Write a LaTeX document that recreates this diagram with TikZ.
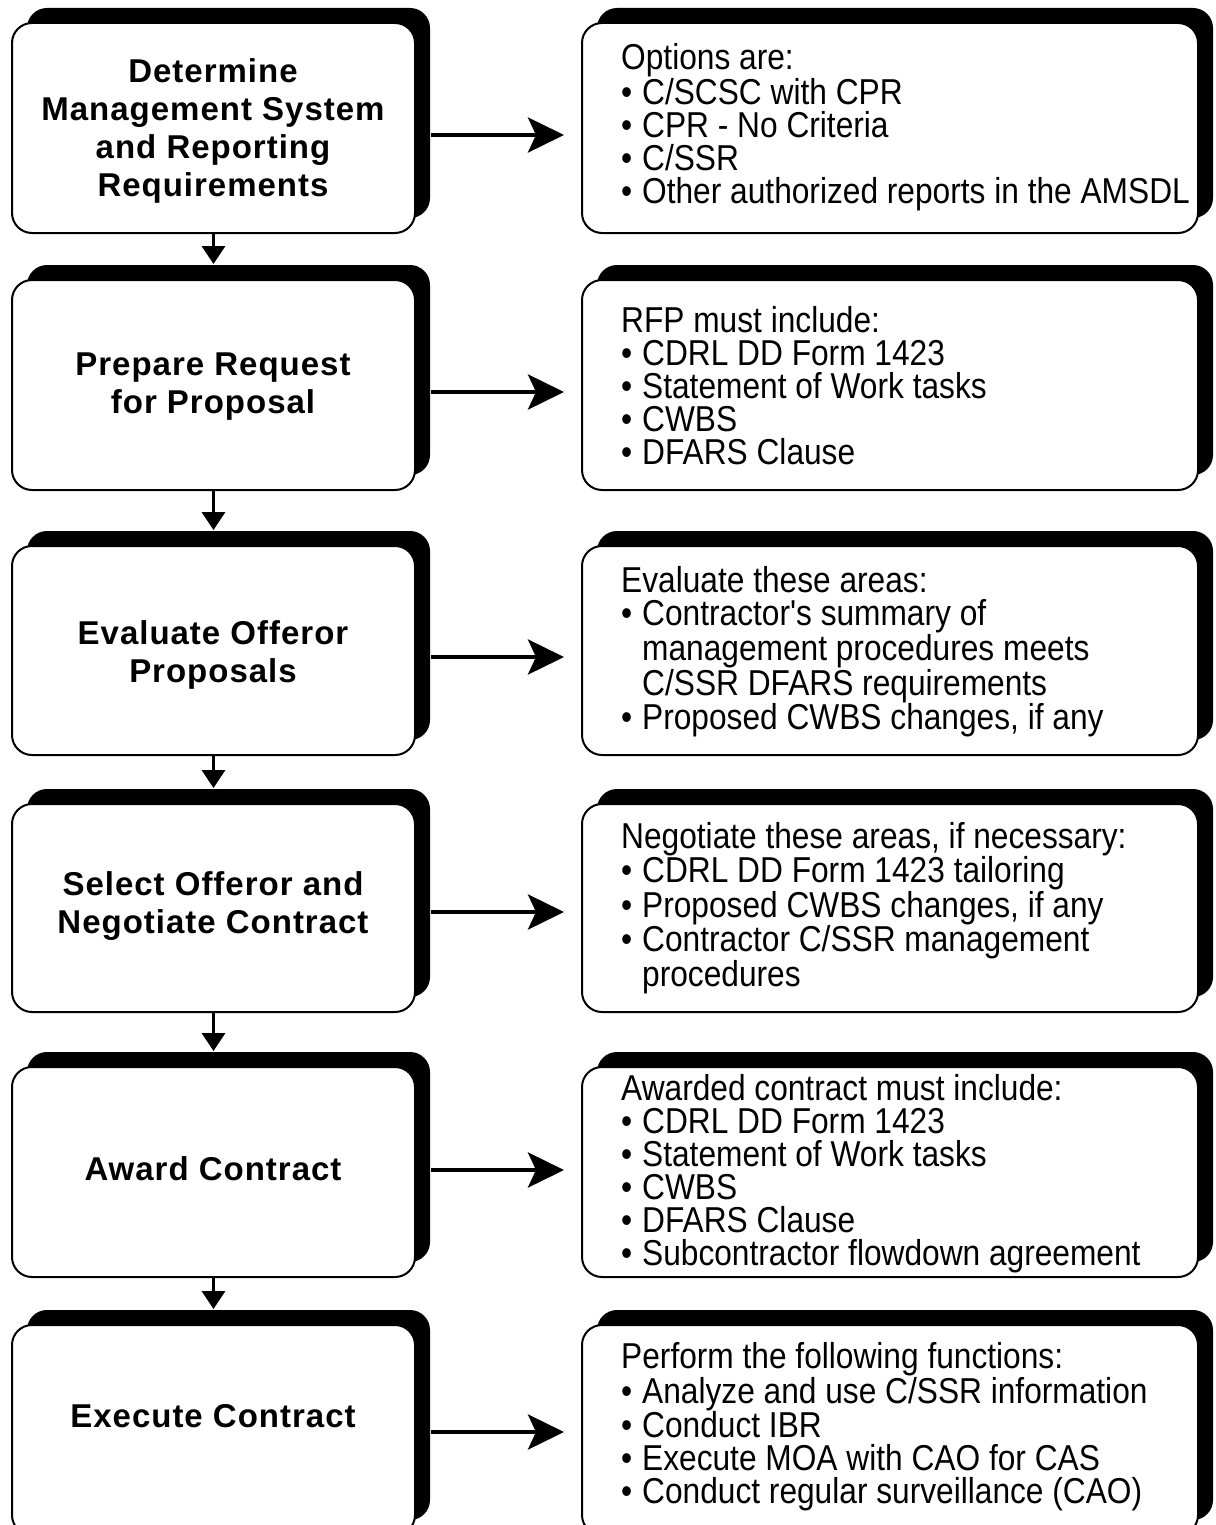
\documentclass[tikz,border=0pt]{standalone}
\usepackage{fontspec}
\setmainfont{Liberation Sans}[LetterSpace=3]
\newfontfamily\rfont[FakeStretch=0.88]{Liberation Sans}
\usetikzlibrary{shadows,arrows.meta}
\newcommand\rbul{\makebox[21pt][l]{•}}
\newcommand\rind{\hspace*{21pt}}
\begin{document}
\begin{tikzpicture}[x=1pt,y=-1pt,
  boxstyle/.style={draw=black, line width=2pt, fill=white, rounded corners=20pt, inner sep=0pt,
     general shadow={shadow xshift=15pt, shadow yshift=15pt, fill=black}},
  lbox/.style={boxstyle, minimum width=403pt},
  rbox/.style={boxstyle, minimum width=616pt},
  ltext/.style={font=\fontsize{33}{38}\selectfont\bfseries, align=center, inner sep=0pt},
  rtext/.style={font=\rfont\fontsize{36}{33}\selectfont, align=left, anchor=west, inner sep=0pt},
  harrow/.style={line width=4.5pt, -{Stealth[length=36pt,width=35pt,inset=8pt]}},
  varrow/.style={line width=3.5pt, -{Triangle[length=18pt,width=23pt]}}
]
\useasboundingbox (0,0) rectangle (1215,1525);
\clip (0,0) rectangle (1215,1525);

% boxes
\node[lbox, minimum height=210pt] (L1) at (213.5,128) {};
\node[rbox, minimum height=210pt] (R1) at (890,128) {};
\node[lbox, minimum height=210pt] (L2) at (213.5,385) {};
\node[rbox, minimum height=210pt] (R2) at (890,385) {};
\node[lbox, minimum height=209pt] (L3) at (213.5,650.5) {};
\node[rbox, minimum height=209pt] (R3) at (890,650.5) {};
\node[lbox, minimum height=208pt] (L4) at (213.5,908) {};
\node[rbox, minimum height=208pt] (R4) at (890,908) {};
\node[lbox, minimum height=210pt] (L5) at (213.5,1172) {};
\node[rbox, minimum height=210pt] (R5) at (890,1172) {};
\node[lbox, minimum height=210pt] (L6) at (213.5,1430) {};
\node[rbox, minimum height=210pt] (R6) at (890,1430) {};

% left texts
\node[ltext] (LT1) at (213,131) {Determine\\Management System\\and Reporting\\Requirements};
\node[ltext] (LT2) at (213,387) {Prepare Request\\for Proposal};
\node[ltext] (LT3) at (213,655) {Evaluate Offeror\\Proposals};
\node[ltext] (LT4) at (213,906) {Select Offeror and\\Negotiate Contract};
\node[ltext] (LT5) at (213,1169) {Award Contract};
\node[ltext] (LT6) at (213,1416) {Execute Contract};

% right texts
\node[rtext] (RT1) at (621,127) {Options are:\\
\rbul C/SCSC with CPR\\
\rbul CPR - No Criteria\\
\rbul C/SSR\\
\rbul Other authorized reports in the AMSDL};
\node[rtext] (RT2) at (621,386) {RFP must include:\\
\rbul CDRL DD Form 1423\\
\rbul Statement of Work tasks\\
\rbul CWBS\\
\rbul DFARS Clause};
\node[rtext] (RT3) at (621,652) {Evaluate these areas:\\
\rbul Contractor's summary of\\
\rind management procedures meets\\
\rind C/SSR DFARS requirements\\
\rbul Proposed CWBS changes, if any};
\node[rtext] (RT4) at (621,908) {Negotiate these areas, if necessary:\\
\rbul CDRL DD Form 1423 tailoring\\
\rbul Proposed CWBS changes, if any\\
\rbul Contractor C/SSR management\\
\rind procedures};
\node[rtext] (RT5) at (621,1174) {Awarded contract must include:\\
\rbul CDRL DD Form 1423\\
\rbul Statement of Work tasks\\
\rbul CWBS\\
\rbul DFARS Clause\\
\rbul Subcontractor flowdown agreement};
\node[rtext] (RT6) at (621,1427) {Perform the following functions:\\
\rbul Analyze and use C/SSR information\\
\rbul Conduct IBR\\
\rbul Execute MOA with CAO for CAS\\
\rbul Conduct regular surveillance (CAO)};

% horizontal arrows
\draw[harrow] ([xshift=15pt,yshift=-7pt]L1.east) -- ([xshift=-17pt,yshift=-7pt]R1.west);
\draw[harrow] ([xshift=15pt,yshift=-7pt]L2.east) -- ([xshift=-17pt,yshift=-7pt]R2.west);
\draw[harrow] ([xshift=15pt,yshift=-6.5pt]L3.east) -- ([xshift=-17pt,yshift=-6.5pt]R3.west);
\draw[harrow] ([xshift=15pt,yshift=-4pt]L4.east) -- ([xshift=-17pt,yshift=-4pt]R4.west);
\draw[harrow] ([xshift=15pt,yshift=2pt]L5.east) -- ([xshift=-17pt,yshift=2pt]R5.west);
\draw[harrow] ([xshift=15pt,yshift=-2pt]L6.east) -- ([xshift=-17pt,yshift=-2pt]R6.west);

% vertical arrows
\draw[varrow] (L1.south) -- ([yshift=15pt]L2.north);
\draw[varrow] (L2.south) -- ([yshift=15pt]L3.north);
\draw[varrow] (L3.south) -- ([yshift=15pt]L4.north);
\draw[varrow] (L4.south) -- ([yshift=15pt]L5.north);
\draw[varrow] (L5.south) -- ([yshift=15pt]L6.north);
\end{tikzpicture}
\end{document}
